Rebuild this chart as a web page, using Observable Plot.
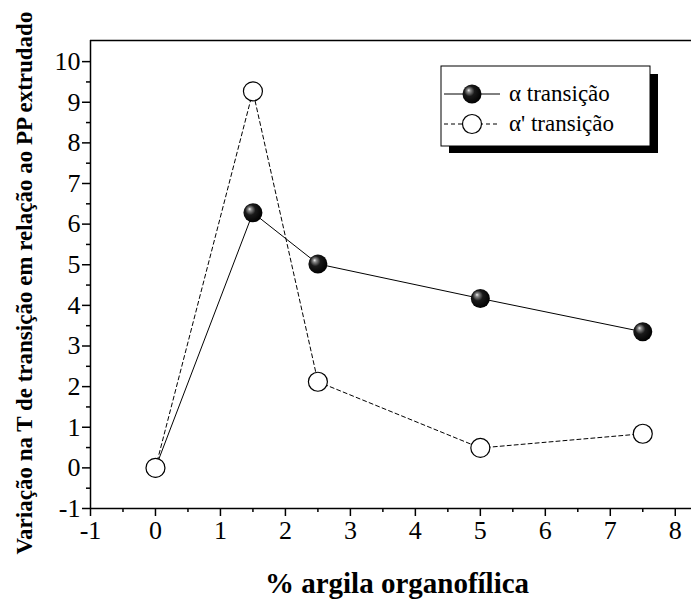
<!DOCTYPE html>
<html>
<head>
<meta charset="utf-8">
<script src="https://cdn.jsdelivr.net/npm/d3@7"></script>
<script src="https://cdn.jsdelivr.net/npm/@observablehq/plot@0.6"></script>
<style>
  body { margin: 0; background: #fff; }
  #chart { position: relative; width: 691px; height: 601px; }
  #chart svg text { font-family: 'Liberation Serif', 'Times New Roman', serif; }
</style>
</head>
<body>
<div id="chart"></div>
<script>
const xValues = [0, 1.5, 2.5, 5, 7.5];
const alpha = [0, 6.28, 5.02, 4.17, 3.35];
const alphaPrime = [0, 9.27, 2.12, 0.49, 0.84];
const xTicks = [-1, 0, 1, 2, 3, 4, 5, 6, 7, 8];
const yTicks = [-1, 0, 1, 2, 3, 4, 5, 6, 7, 8, 9, 10];
const xMinor = [-0.5, 0.5, 1.5, 2.5, 3.5, 4.5, 5.5, 6.5, 7.5];
const yMinor = [-0.5, 0.5, 1.5, 2.5, 3.5, 4.5, 5.5, 6.5, 7.5, 8.5, 9.5];
const xDomain = [-1, 8.25];
const yDomain = [-1, 10.52];
const seriesNames = ["\u03B1 transi\u00E7\u00E3o", "\u03B1' transi\u00E7\u00E3o"];
const xTitle = "% argila organof\u00EDlica";
const yTitle = "Varia\u00E7\u00E3o na T de transi\u00E7\u00E3o em rela\u00E7\u00E3o ao PP extrudado";

const dataA = xValues.map((x, i) => ({x, y: alpha[i]}));
const dataB = xValues.map((x, i) => ({x, y: alphaPrime[i]}));
const serif = "'Liberation Serif', 'Times New Roman', serif";

const plot = Plot.plot({
  width: 691,
  height: 601,
  marginLeft: 90,
  marginRight: 0,
  marginTop: 40,
  marginBottom: 93,
  style: {fontFamily: serif, fontSize: "26px", color: "#000", background: "#fff"},
  x: {domain: xDomain},
  y: {domain: yDomain},
  marks: [
    Plot.axisX({ticks: xTicks, tickSize: 8, tickPadding: 4, fontSize: 26, fontFamily: serif, tickFormat: d => String(d), label: null, strokeWidth: 1.5}),
    Plot.axisX({ticks: xMinor, tickSize: 4, text: null, label: null, strokeWidth: 1.5}),
    Plot.axisY({ticks: yTicks, tickSize: 8, tickPadding: 2, fontSize: 26, fontFamily: serif, tickFormat: d => String(d), label: null, strokeWidth: 1.5}),
    Plot.axisY({ticks: yMinor, tickSize: 4, text: null, label: null, strokeWidth: 1.5}),
    Plot.ruleX([xDomain[0]], {strokeWidth: 1.5}),
    Plot.ruleY([yDomain[0]], {strokeWidth: 1.5}),
    Plot.ruleY([yDomain[1]], {strokeWidth: 1.5}),
    Plot.line(dataA, {x: "x", y: "y", stroke: "#000", strokeWidth: 1}),
    Plot.line(dataB, {x: "x", y: "y", stroke: "#000", strokeWidth: 1, strokeDasharray: "4,3"}),
    Plot.dot(dataA, {x: "x", y: "y", r: 9.5, fill: "url(#ball)", stroke: "none"}),
    Plot.dot(dataB, {x: "x", y: "y", r: 9.5, fill: "#fff", stroke: "#000", strokeWidth: 1.2})
  ]
});

const svg = d3.select(plot);
const defs = svg.insert("defs", ":first-child");
const g = defs.append("radialGradient").attr("id", "ball")
  .attr("cx", "0.42").attr("cy", "0.42").attr("r", "0.6")
  .attr("fx", "0.32").attr("fy", "0.3");
g.append("stop").attr("offset", "0").attr("stop-color", "#f0f0f0");
g.append("stop").attr("offset", "0.15").attr("stop-color", "#8a8a8a");
g.append("stop").attr("offset", "0.45").attr("stop-color", "#1a1a1a");
g.append("stop").attr("offset", "1").attr("stop-color", "#000");

// axis titles
svg.append("text")
  .attr("x", 397).attr("y", 593)
  .attr("text-anchor", "middle")
  .attr("font-family", serif).attr("font-weight", "bold").attr("font-size", 29)
  .text(xTitle);
svg.append("text")
  .attr("transform", "translate(32,283) rotate(-90)")
  .attr("text-anchor", "middle")
  .attr("font-family", serif).attr("font-weight", "bold").attr("font-size", 23)
  .text(yTitle);

// legend
const lg = svg.append("g");
lg.append("rect").attr("x", 449).attr("y", 74).attr("width", 209).attr("height", 79).attr("fill", "#000");
lg.append("rect").attr("x", 441).attr("y", 66).attr("width", 209).attr("height", 80)
  .attr("fill", "#fff").attr("stroke", "#000").attr("stroke-width", 1);
const rows = [
  {y: 94, dash: null, fill: "url(#ball)", stroke: "none"},
  {y: 124, dash: "4,3", fill: "#fff", stroke: "#000"}
];
rows.forEach((r, i) => {
  lg.append("line").attr("x1", 444).attr("x2", 500).attr("y1", r.y).attr("y2", r.y)
    .attr("stroke", "#000").attr("stroke-width", 1).attr("stroke-dasharray", r.dash);
  lg.append("circle").attr("cx", 472).attr("cy", r.y).attr("r", 9.5)
    .attr("fill", r.fill).attr("stroke", r.stroke).attr("stroke-width", 1.2);
  lg.append("text").attr("x", 509).attr("y", r.y + 7)
    .attr("text-anchor", "start")
    .attr("font-family", serif).attr("font-size", 23).text(seriesNames[i]);
});

document.getElementById("chart").appendChild(plot);
</script>
</body>
</html>
